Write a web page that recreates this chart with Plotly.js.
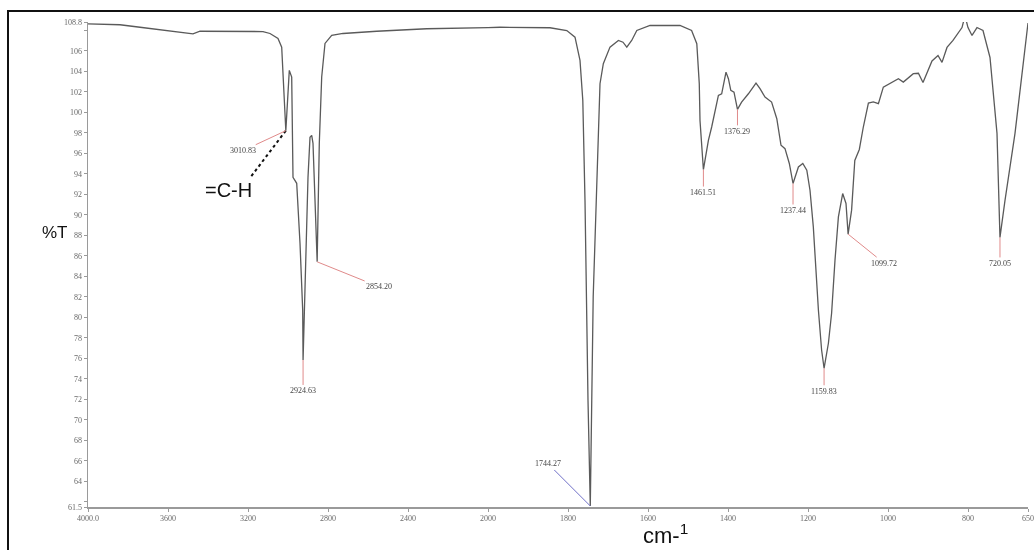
<!DOCTYPE html>
<html>
<head>
<meta charset="utf-8">
<script src="https://cdn.plot.ly/plotly-3.0.1.min.js"></script>
<style>
  html, body { margin: 0; padding: 0; background: #fff; }
  #wrap { position: relative; width: 1034px; height: 550px; overflow: hidden; }
  /* own compositing layer keeps small text greyscale-antialiased */
  #chart { position: absolute; left: 0; top: 0; width: 1034px; height: 550px;
           opacity: 0.999; will-change: transform; }
  #frame { position: absolute; left: 7px; top: 10px; width: 1040px; height: 560px;
           border: 2px solid #111; pointer-events: none; box-sizing: border-box; }
</style>
</head>
<body>
<div id="wrap">
  <div id="chart"></div>
  <div id="frame"></div>
</div>
<script>
// FTIR spectrum: wavenumber (cm-1) and percent transmittance
const wavenumber = [
  4000, 3840, 3740, 3615, 3475, 3440, 3290, 3125, 3090, 3050,
  3031.5, 3025, 3015, 3010.83, 2993.5, 2981.5, 2975, 2956.5, 2940, 2926.5,
  2924.63, 2915, 2900, 2890, 2881.5, 2875, 2865, 2854.20, 2843.5, 2831.5,
  2815, 2781.5, 2725, 2556.5, 2306.5, 2140, 2000,
  1970, 1845, 1803, 1782.5, 1770, 1763, 1757.5, 1750, 1744.27, 1737,
  1724, 1720, 1711.7, 1695, 1674, 1662.5, 1653, 1640.8, 1628, 1595,
  1520, 1491, 1478, 1471.8, 1470, 1465, 1461.51, 1449, 1440.8, 1424,
  1415.8, 1405, 1399, 1393, 1385, 1376.29, 1366, 1349, 1330, 1320,
  1307.5, 1291, 1278, 1267.5, 1257.5, 1246.7, 1237.44, 1224, 1213, 1203,
  1195, 1186.7, 1174, 1166, 1159.83, 1149, 1141, 1132.5, 1124, 1113.3,
  1105, 1099.72, 1091, 1083, 1071.7, 1061.7, 1049, 1036.7, 1024, 1011.7,
  995, 974, 961.7, 936.7, 924, 912.5, 890, 875, 865, 852.5,
  837.5, 815, 807.5, 800, 790, 777.5, 762.5, 745, 727.5, 720.05,
  707.5, 682.5, 650
];
const transmittance = [
  108.62, 108.53, 108.29, 107.97, 107.65, 107.90, 107.90, 107.87, 107.68, 107.19,
  106.35, 103.43, 98.90, 98.20, 104.08, 103.43, 93.66, 93.07, 87.23, 80.70,
  75.84, 83.92, 93.66, 97.55, 97.74, 96.97, 92.10, 85.41, 96.97, 103.43,
  106.71, 107.49, 107.68, 107.90, 108.14, 108.24, 108.26,
  108.29, 108.24, 107.97, 107.32, 105.05, 101.16, 91.40, 71.90, 61.60, 82.00,
  99.20, 102.78, 104.73, 106.35, 107.00, 106.83, 106.35, 107.00, 107.97, 108.46,
  108.46, 107.97, 106.68, 102.78, 99.20, 96.30, 94.41, 97.26, 98.56, 101.64,
  101.80, 103.91, 103.27, 102.13, 101.96, 100.28, 100.99, 101.80, 102.84, 102.30,
  101.48, 100.99, 99.37, 96.78, 96.45, 95.00, 93.05, 94.66, 95.00, 94.34,
  92.39, 88.82, 80.71, 76.81, 75.03, 77.47, 80.39, 85.58, 89.79, 92.07,
  91.10, 88.11, 90.45, 95.30, 96.37, 98.56, 100.90, 101.00, 100.84, 102.45,
  102.78, 103.27, 102.94, 103.76, 103.80, 102.90, 105.00, 105.54, 104.86, 106.32,
  107.00, 108.26, 109.40, 108.26, 107.49, 108.26, 107.97, 105.34, 97.94, 87.79,
  91.40, 97.94, 108.70
];

// Picked peaks (cm-1)
const peaks = [3010.83, 2924.63, 2854.20, 1744.27, 1461.51, 1376.29, 1237.44, 1159.83, 1099.72, 720.05];

// Axis ticks
const xTicksHigh = [4000, 3600, 3200, 2800, 2400];
const xTickTextHigh = ['4000.0', '3600', '3200', '2800', '2400'];
const xTicksLow = [2000, 1800, 1600, 1400, 1200, 1000, 800, 650];
const xTickTextLow = ['2000', '1800', '1600', '1400', '1200', '1000', '800', '650'];
const yTicks = [61.5, 64, 66, 68, 70, 72, 74, 76, 78, 80, 82, 84, 86, 88, 90,
                92, 94, 96, 98, 100, 102, 104, 106, 108.8];
const yTickText = ['61.5', '64', '66', '68', '70', '72', '74', '76', '78', '80', '82', '84', '86', '88', '90',
                   '92', '94', '96', '98', '100', '102', '104', '106', '108.8'];
const yUnlabelledTicks = [62, 108];

// Scale change at 2000 cm-1: the low-wavenumber part is drawn at twice the scale
const SPLIT = 2000;
const WN_MAX = 4000, WN_MIN = 650;
const splitFrac = (WN_MAX - SPLIT) / ((WN_MAX - SPLIT) + 2 * (SPLIT - WN_MIN));

// Label offsets (px) from each peak to its label
const labelOffset = {
  3010.83: [-43, 20], 2924.63: [0, 31], 2854.20: [62, 25], 1744.27: [-42, -42],
  1461.51: [0, 23], 1376.29: [0, 22], 1237.44: [0, 27], 1159.83: [0, 23],
  1099.72: [36, 29], 720.05: [0, 26]
};

const hiX = [], hiY = [], loX = [], loY = [];
wavenumber.forEach((w, i) => {
  if (w >= SPLIT) { hiX.push(w); hiY.push(transmittance[i]); }
  if (w <= SPLIT) { loX.push(w); loY.push(transmittance[i]); }
});

const lineStyle = { color: '#5a5a5a', width: 1.3 };
const traces = [
  { x: hiX, y: hiY, xaxis: 'x', yaxis: 'y', mode: 'lines', line: lineStyle, hoverinfo: 'x+y' },
  { x: loX, y: loY, xaxis: 'x2', yaxis: 'y', mode: 'lines', line: lineStyle, hoverinfo: 'x+y' }
];

const tickFont = { family: 'Liberation Serif, Times New Roman, serif', size: 8, color: '#6a6a6a' };
const labelFont = { family: 'Liberation Serif, Times New Roman, serif', size: 8, color: '#444' };

const annotations = peaks.map(p => {
  const i = wavenumber.indexOf(p);
  const off = labelOffset[p];
  return {
    x: p, y: transmittance[i],
    xref: p >= SPLIT ? 'x' : 'x2', yref: 'y',
    text: p.toFixed(2), font: labelFont,
    showarrow: true, arrowhead: 0, arrowwidth: 1,
    arrowcolor: p === 1744.27 ? '#7070c8' : '#e08a8a',
    ax: off[0], ay: off[1], standoff: 0, startstandoff: 0
  };
});

// =C-H assignment for the 3010.83 shoulder
const chIdx = wavenumber.indexOf(3010.83);
annotations.push({
  x: 3300, y: 92.4, xref: 'x', yref: 'y', showarrow: false,
  text: '=C-H', font: { family: 'Liberation Sans, Arial, sans-serif', size: 20, color: '#111' }
});
annotations.push({
  x: -0.051, y: 0.566, xref: 'paper', yref: 'paper', showarrow: false,
  text: '%T', font: { family: 'Liberation Sans, Arial, sans-serif', size: 17, color: '#111' }
});
annotations.push({
  x: 0.614, y: -0.088, xref: 'paper', yref: 'paper', showarrow: false,
  text: 'cm-<sup>1</sup>', font: { family: 'Liberation Sans, Arial, sans-serif', size: 22, color: '#111' }
});

const shapes = [{
  type: 'line', xref: 'x', yref: 'y',
  x0: wavenumber[chIdx], y0: transmittance[chIdx], x1: 3190, y1: 93.6,
  line: { color: '#111', width: 2, dash: 'dot' }
}];

const axisCommon = {
  showline: true, linecolor: '#9a9a9a', linewidth: 1.5,
  ticks: 'outside', ticklen: 3, tickcolor: '#9a9a9a', tickwidth: 1,
  showgrid: false, zeroline: false, tickfont: tickFont, fixedrange: true
};

const layout = {
  width: 1034, height: 550,
  margin: { l: 88, r: 6, t: 21.5, b: 43, pad: 0 },
  paper_bgcolor: '#fff', plot_bgcolor: '#fff',
  showlegend: false,
  xaxis: Object.assign({}, axisCommon, {
    domain: [0, splitFrac], range: [WN_MAX, SPLIT], anchor: 'y',
    tickmode: 'array', tickvals: xTicksHigh, ticktext: xTickTextHigh
  }),
  xaxis2: Object.assign({}, axisCommon, {
    domain: [splitFrac, 1], range: [SPLIT, WN_MIN], anchor: 'y',
    tickmode: 'array', tickvals: xTicksLow, ticktext: xTickTextLow
  }),
  yaxis: Object.assign({}, axisCommon, {
    range: [61.5, 108.8], anchor: 'x',
    tickmode: 'array', tickvals: yTicks, ticktext: yTickText,
    minor: { tickmode: 'array', tickvals: yUnlabelledTicks, ticks: 'outside', ticklen: 3,
             tickcolor: '#9a9a9a', tickwidth: 1, showgrid: false }
  }),
  annotations: annotations,
  shapes: shapes
};

Plotly.newPlot('chart', traces, layout, { staticPlot: true, displayModeBar: false });
</script>
</body>
</html>
